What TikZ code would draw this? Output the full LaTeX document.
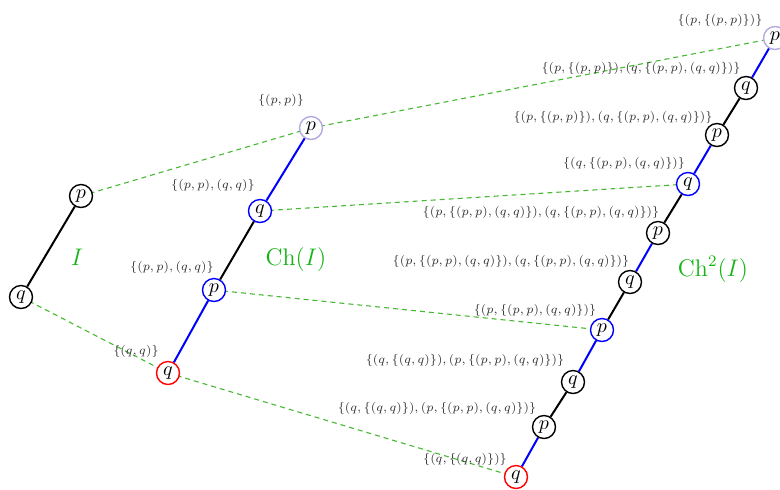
\documentclass[tikz,border=0pt]{standalone}
\usetikzlibrary{calc}
\definecolor{lav}{RGB}{180,170,225}
\definecolor{grn}{RGB}{20,180,20}
\definecolor{dgrn}{RGB}{70,185,50}
\definecolor{lblc}{RGB}{50,50,50}
\begin{document}
\begin{tikzpicture}[x=0.5pt,y=-0.5pt,
  st/.style={circle,draw=black,line width=0.7pt,minimum size=11.5pt,inner sep=0pt,font=\normalsize,fill=white},
  stblue/.style={st,draw=blue},
  stred/.style={st,draw=red},
  stlav/.style={st,draw=lav},
  eblk/.style={draw=black,line width=1pt},
  eblu/.style={draw=blue,line width=1pt},
  corr/.style={draw=dgrn,line width=0.55pt,dash pattern=on 2.5pt off 2pt},
  lbl/.style={font=\scriptsize,text=lblc,inner sep=0pt,scale=0.87},
  big/.style={font=\large,text=grn}]
\useasboundingbox (0,0) rectangle (780,489);
% chain I
\coordinate (Ip0) at (81,196);
\coordinate (Iq0) at (21,297);
% Ch(I)
\coordinate (Cp0) at (311,128);
\coordinate (Cq1) at (260,211);
\coordinate (Cp2) at (214,290);
\coordinate (Cq3) at (168,373);
% Ch2(I)
\coordinate (Dp0) at (775,38);
\coordinate (Dq1) at (746,88);
\coordinate (Dp2) at (717,135);
\coordinate (Dq3) at (688,184);
\coordinate (Dp4) at (658,233);
\coordinate (Dq5) at (630,282);
\coordinate (Dp6) at (602,330);
\coordinate (Dq7) at (573,382);
\coordinate (Dp8) at (544,427);
\coordinate (Dq9) at (516,477);
% correspondence lines
\draw[corr] (Ip0) -- (Cp0);
\draw[corr] (Cp0) -- (Dp0);
\draw[corr] (Iq0) -- (Cq3);
\draw[corr] (Cq3) -- (Dq9);
\draw[corr] (Cq1) -- (Dq3);
\draw[corr] (Cp2) -- (Dp6);
% labels
\node[lbl] (l1) at (281,100) {$\{(p,p)\}$};
\node[lbl] (l2) at (213,185) {$\{(p,p),(q,q)\}$};
\node[lbl] (l3) at (172,267) {$\{(p,p),(q,q)\}$};
\node[lbl] (l4) at (136,351) {$\{(q,q)\}$};
\node[lbl] (m0) at (720,20) {$\{(p,\{(p,p)\})\}$};
\node[lbl] (m1) at (641,68) {$\{(p,\{(p,p)\}),(q,\{(p,p),(q,q)\})\}$};
\node[lbl] (m2) at (613,117) {$\{(p,\{(p,p)\}),(q,\{(p,p),(q,q)\})\}$};
\node[lbl] (m3) at (624,163) {$\{(q,\{(p,p),(q,q)\})\}$};
\node[lbl] (m4) at (541,212) {$\{(p,\{(p,p),(q,q)\}),(q,\{(p,p),(q,q)\})\}$};
\node[lbl] (m5) at (511,261) {$\{(p,\{(p,p),(q,q)\}),(q,\{(p,p),(q,q)\})\}$};
\node[lbl] (m6) at (535,310) {$\{(p,\{(p,p),(q,q)\})\}$};
\node[lbl] (m7) at (465,360) {$\{(q,\{(q,q)\}),(p,\{(p,p),(q,q)\})\}$};
\node[lbl] (m8) at (437,408) {$\{(q,\{(q,q)\}),(p,\{(p,p),(q,q)\})\}$};
\node[lbl] (m9) at (465,459) {$\{(q,\{(q,q)\})\}$};
% nodes
\node[st] (Ip) at (Ip0) {$p$};
\node[st] (Iq) at (Iq0) {$q$};
\node[stlav] (Cp) at (Cp0) {$p$};
\node[stblue] (Cq) at (Cq1) {$q$};
\node[stblue] (Cpp) at (Cp2) {$p$};
\node[stred] (Cqq) at (Cq3) {$q$};
\node[stlav] (D0) at (Dp0) {$p$};
\node[st] (D1) at (Dq1) {$q$};
\node[st] (D2) at (Dp2) {$p$};
\node[stblue] (D3) at (Dq3) {$q$};
\node[st] (D4) at (Dp4) {$p$};
\node[st] (D5) at (Dq5) {$q$};
\node[stblue] (D6) at (Dp6) {$p$};
\node[st] (D7) at (Dq7) {$q$};
\node[st] (D8) at (Dp8) {$p$};
\node[stred] (D9) at (Dq9) {$q$};
% chain edges
\draw[eblk] (Ip) -- (Iq);
\draw[eblu] (Cp) -- (Cq);
\draw[eblk] (Cq) -- (Cpp);
\draw[eblu] (Cpp) -- (Cqq);
\draw[eblu] (D0) -- (D1);
\draw[eblk] (D1) -- (D2);
\draw[eblu] (D2) -- (D3);
\draw[eblk] (D3) -- (D4);
\draw[eblu] (D4) -- (D5);
\draw[eblk] (D5) -- (D6);
\draw[eblu] (D6) -- (D7);
\draw[eblk] (D7) -- (D8);
\draw[eblu] (D8) -- (D9);
% big labels
\node[big] (tI) at (77,257) {$I$};
\node[big] (tC) at (296,259) {$\mathrm{Ch}(I)$};
\node[big] (tD) at (713,269) {$\mathrm{Ch}^2(I)$};
\end{tikzpicture}
\end{document}
